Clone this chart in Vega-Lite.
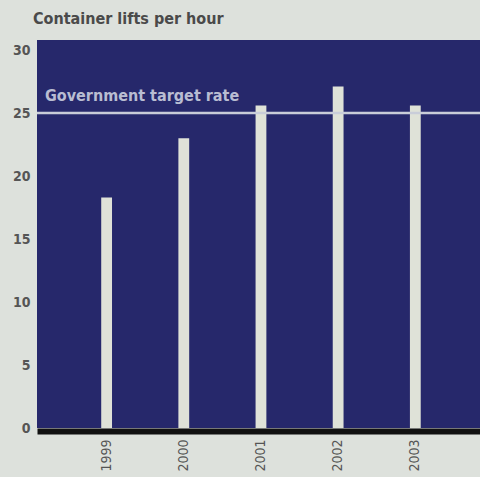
{
  "$schema": "https://vega.github.io/schema/vega-lite/v6.json",
  "width": 443,
  "height": 388,
  "autosize": {"type": "none"},
  "padding": {"left": 37, "top": 40, "right": 0, "bottom": 49},
  "background": "#dde1dc",
  "title": {
    "text": "Container lifts per hour",
    "anchor": "start",
    "frame": "group",
    "offset": 13,
    "dx": -4,
    "font": "DejaVu Sans Condensed",
    "fontSize": 16,
    "fontWeight": "bold",
    "color": "#4a4a4a"
  },
  "config": {
    "view": {"fill": "#26286b", "stroke": null},
    "axis": {"labelFont": "DejaVu Sans Condensed", "labelColor": "#555555", "labelFontSize": 14, "grid": false, "ticks": false, "title": null}
  },
  "datasets": {
    "lifts": [
      {"year": "1999", "lifts": 18.3},
      {"year": "2000", "lifts": 23.0},
      {"year": "2001", "lifts": 25.6},
      {"year": "2002", "lifts": 27.1},
      {"year": "2003", "lifts": 25.6}
    ],
    "target": [{"target": 25, "label": "Government target rate"}]
  },
  "layer": [
    {
      "data": {"name": "lifts"},
      "mark": {"type": "bar", "color": "#dfe2d8"},
      "encoding": {
        "x": {
          "field": "year", "type": "ordinal",
          "scale": {"paddingInner": 0.86, "paddingOuter": 0.8, "align": 0.52},
          "axis": {"labelAngle": -90, "labelAlign": "right", "labelBaseline": "middle", "labelPadding": 8, "domainColor": "#111111", "domainWidth": 6, "offset": 3}
        },
        "y": {
          "field": "lifts", "type": "quantitative",
          "scale": {"domain": [0, 30.8], "nice": false},
          "axis": {"values": [0, 5, 10, 15, 20, 25, 30], "domain": false, "labelPadding": 7, "labelBaseline": "middle", "labelFontWeight": "bold"}
        }
      }
    },
    {
      "data": {"name": "target"},
      "mark": {"type": "rule", "color": "#c9cdd9", "strokeWidth": 2.5},
      "encoding": {"y": {"field": "target", "type": "quantitative"}}
    },
    {
      "data": {"name": "target"},
      "mark": {"type": "text", "align": "left", "baseline": "bottom", "dy": -9, "font": "DejaVu Sans Condensed", "fontSize": 16, "fontWeight": "bold", "color": "#b9bdd2"},
      "encoding": {
        "x": {"value": 8},
        "y": {"field": "target", "type": "quantitative"},
        "text": {"field": "label"}
      }
    }
  ]
}
